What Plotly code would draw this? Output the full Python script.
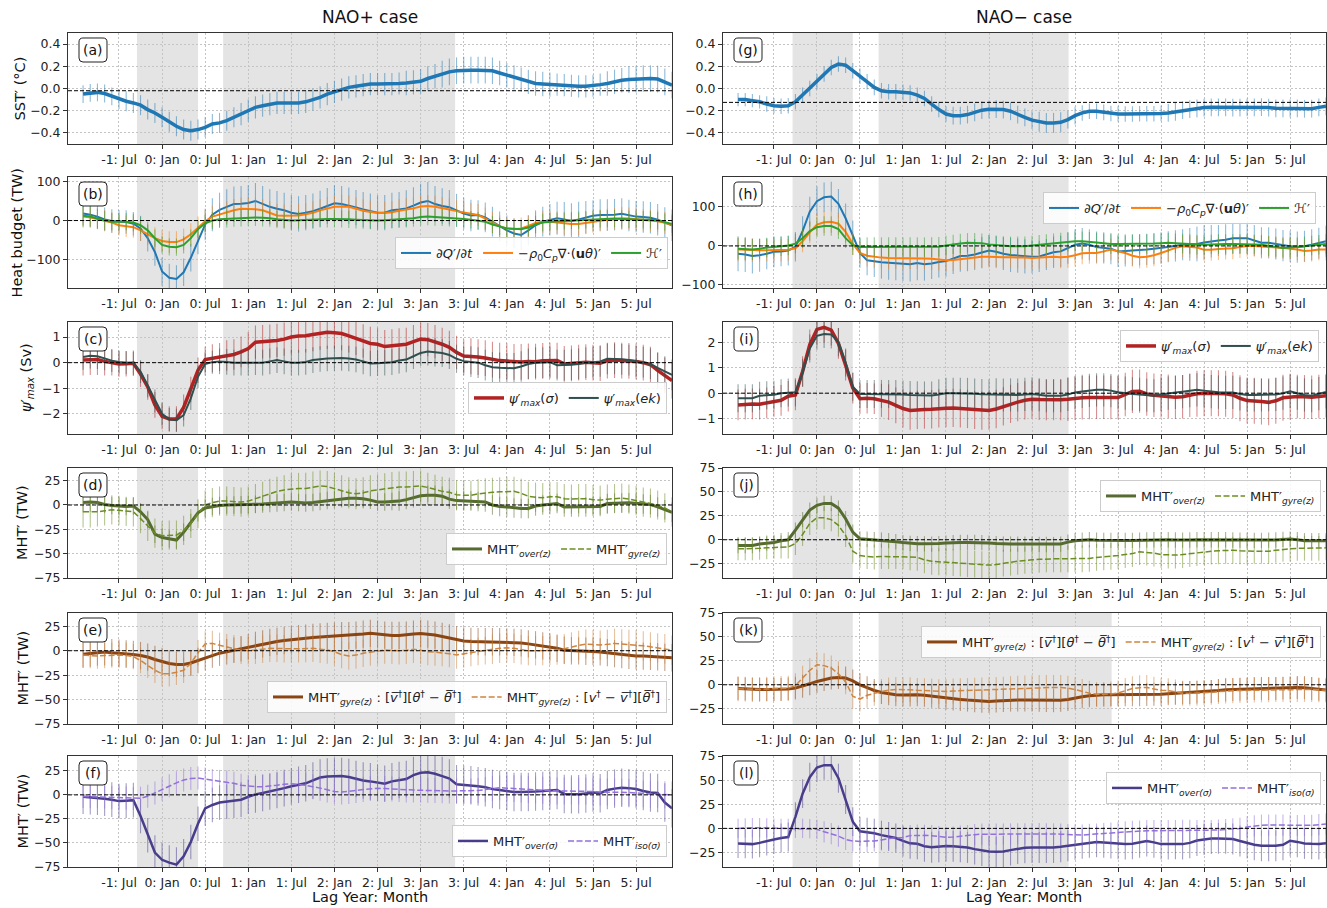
import plotly.graph_objects as go

W, H = 1327, 908

# ---------------- data ----------------
months = list(range(-11, 72))
tick_months = [-6, 0, 6, 12, 18, 24, 30, 36, 42, 48, 54, 60, 66]
tick_labels = ['-1: Jul', '0: Jan', '0: Jul', '1: Jan', '1: Jul', '2: Jan', '2: Jul',
               '3: Jan', '3: Jul', '4: Jan', '4: Jul', '5: Jan', '5: Jul']

bands_pos = [[-3.5, 5.0], [8.5, 40.8]]
bands_neg = [[-3.4, 5.0], [8.6, 35.1]]
bands_neg_k = [[-3.4, 5.0], [8.6, 41.1]]
ref_sst_pos = -0.02
ref_sst_neg = -0.125

# NAO+ (a) SST'
sst_pos = [-0.05, -0.04, -0.035, -0.045, -0.07, -0.095, -0.115, -0.13, -0.15, -0.19, -0.22, -0.26,
           -0.30, -0.34, -0.37, -0.38, -0.37, -0.35, -0.32, -0.31, -0.29, -0.26, -0.23, -0.20,
           -0.17, -0.155, -0.14, -0.13, -0.13, -0.13, -0.13, -0.12, -0.10, -0.08, -0.05, -0.03,
           -0.01, 0.01, 0.02, 0.03, 0.04, 0.04, 0.04, 0.04, 0.045, 0.05, 0.055, 0.065,
           0.09, 0.11, 0.13, 0.15, 0.16, 0.165, 0.165, 0.165, 0.165, 0.16, 0.14, 0.12,
           0.10, 0.08, 0.06, 0.045, 0.04, 0.035, 0.035, 0.03, 0.025, 0.02, 0.02, 0.025,
           0.035, 0.045, 0.06, 0.075, 0.08, 0.085, 0.09, 0.09, 0.085, 0.06, 0.03]
err_sst_pos = [0.08, 0.08, 0.08, 0.08, 0.08, 0.09, 0.09, 0.09, 0.09, 0.09, 0.09, 0.09,
               0.09, 0.09, 0.09, 0.09, 0.09, 0.09, 0.09, 0.09, 0.09, 0.09, 0.10, 0.10,
               0.10, 0.10, 0.10, 0.10, 0.10, 0.10, 0.10, 0.10, 0.10, 0.10, 0.10, 0.10,
               0.10, 0.10, 0.10, 0.10, 0.10, 0.10, 0.10, 0.10, 0.10, 0.11, 0.11, 0.11,
               0.11, 0.11, 0.12, 0.12, 0.12, 0.12, 0.12, 0.12, 0.12, 0.12, 0.11, 0.11,
               0.11, 0.11, 0.11, 0.11, 0.11, 0.11, 0.10, 0.10, 0.10, 0.10, 0.10, 0.10,
               0.10, 0.11, 0.11, 0.11, 0.12, 0.12, 0.12, 0.12, 0.12, 0.12, 0.12]

# NAO+ (b) heat budget
q_pos = [18, 15, 10, 3, -1, -3, -4, -8, -20, -45, -80, -130,
         -146, -149, -132, -95, -50, -10, 15, 27, 35, 42, 43, 45,
         50, 42, 35, 30, 26, 20, 17, 20, 24, 30, 37, 44,
         42, 38, 33, 28, 24, 20, 20, 26, 28, 31, 38, 46,
         50, 42, 37, 34, 26, 18, 13, 14, 8, -3, -15, -25,
         -33, -37, -25, -12, -3, 2, 6, 3, -1, 3, 8, 12,
         14, 14, 15, 17, 13, 10, 9, 7, 2, -6, -12]
err_q_pos = [30, 30, 30, 30, 30, 30, 30, 30, 32, 34, 35, 36,
             36, 35, 35, 35, 36, 40, 42, 44, 45, 45, 45, 45,
             46, 46, 45, 45, 45, 45, 45, 45, 45, 46, 46, 46,
             46, 46, 45, 45, 45, 45, 45, 45, 45, 46, 47, 48,
             48, 46, 45, 44, 42, 40, 40, 38, 38, 38, 38, 38,
             38, 38, 38, 38, 38, 40, 42, 44, 45, 45, 42, 40,
             40, 40, 40, 40, 40, 40, 40, 40, 40, 40, 40]
adv_pos = [10, 8, 4, 0, -5, -12, -15, -17, -25, -35, -45, -52,
           -55, -55, -48, -35, -18, -2, 10, 16, 22, 26, 30, 30,
           29, 26, 20, 13, 12, 12, 13, 16, 20, 26, 31, 35,
           36, 35, 30, 25, 22, 19, 19, 21, 25, 28, 31, 36,
           37, 35, 32, 28, 24, 21, 17, 14, 5, -5, -15, -20,
           -22, -20, -14, -6, -3, -3, -5, -8, -9, -9, -6, -3,
           0, 2, 4, 6, 5, 3, 1, 0, -2, -6, -11]
err_adv_pos = [25, 25, 26, 26, 26, 26, 27, 27, 27, 27, 28, 28,
               28, 28, 28, 28, 28, 28, 28, 28, 28, 29, 29, 29,
               29, 29, 29, 29, 29, 29, 29, 29, 29, 29, 29, 29,
               29, 29, 29, 29, 29, 29, 29, 29, 29, 29, 28, 28,
               28, 28, 28, 28, 28, 28, 28, 28, 28, 28, 28, 28,
               28, 28, 28, 28, 28, 28, 28, 28, 28, 28, 28, 28,
               28, 28, 28, 28, 28, 28, 28, 28, 28, 28, 28]
h_pos = [12, 10, 5, 0, -3, -3, -3, -5, -12, -25, -45, -62,
         -67, -68, -62, -45, -22, -7, 0, 3, 4, 6, 7, 8,
         8, 7, 6, 3, 1, 0, 1, 2, 3, 4, 4, 4,
         4, 3, 2, 1, 0, 0, 1, 2, 3, 4, 6, 9,
         10, 9, 8, 7, 6, 4, 2, 0, -3, -10, -15, -20,
         -21, -22, -18, -10, -5, -3, -2, -1, 0, 1, 2, 3,
         4, 5, 5, 4, 3, 3, 2, 2, 0, -4, -9]
err_h_pos = [30, 28, 26, 24, 22, 22, 22, 22, 22, 22, 22, 22,
             22, 22, 22, 22, 22, 22, 22, 22, 22, 22, 22, 22,
             22, 22, 22, 22, 22, 22, 22, 22, 22, 22, 22, 22,
             22, 22, 22, 22, 22, 22, 22, 22, 22, 22, 22, 22,
             22, 22, 22, 22, 22, 22, 22, 22, 22, 22, 22, 22,
             22, 22, 22, 22, 22, 22, 22, 22, 22, 22, 22, 22,
             22, 22, 22, 22, 22, 22, 22, 22, 22, 22, 22]

# NAO+ (c) psi'
psi_sig_pos = [0.10, 0.12, 0.12, 0.05, 0.0, -0.05, -0.04, -0.02, -0.45, -0.95, -1.65, -2.1,
               -2.2, -2.2, -1.75, -1.05, -0.3, 0.12, 0.17, 0.22, 0.28, 0.32, 0.42, 0.55,
               0.8, 0.82, 0.84, 0.87, 0.92, 1.0, 1.04, 1.05, 1.1, 1.15, 1.19, 1.17,
               1.14, 1.05, 0.95, 0.85, 0.75, 0.72, 0.63, 0.66, 0.7, 0.72, 0.82, 0.92,
               0.9, 0.82, 0.72, 0.6, 0.4, 0.26, 0.25, 0.22, 0.18, 0.12, 0.08, 0.06,
               0.03, 0.03, 0.05, 0.04, 0.07, 0.08, 0.08, -0.05, -0.03, 0.0, 0.02, 0.0,
               -0.02, 0.08, 0.1, 0.08, 0.07, 0.05, 0.0, -0.08, -0.3, -0.5, -0.7]
err_psi_sig_pos = [0.6, 0.6, 0.6, 0.55, 0.5, 0.5, 0.5, 0.5, 0.5, 0.5, 0.5, 0.5,
                   0.5, 0.5, 0.5, 0.5, 0.5, 0.5, 0.55, 0.55, 0.6, 0.6, 0.6, 0.65,
                   0.65, 0.65, 0.65, 0.65, 0.65, 0.65, 0.65, 0.65, 0.65, 0.65, 0.65, 0.65,
                   0.65, 0.65, 0.65, 0.65, 0.65, 0.65, 0.65, 0.65, 0.65, 0.65, 0.65, 0.65,
                   0.65, 0.65, 0.65, 0.65, 0.65, 0.65, 0.7, 0.7, 0.7, 0.7, 0.7, 0.7,
                   0.7, 0.7, 0.7, 0.7, 0.7, 0.7, 0.7, 0.7, 0.7, 0.7, 0.7, 0.7,
                   0.7, 0.7, 0.7, 0.7, 0.7, 0.7, 0.7, 0.7, 0.7, 0.7, 0.7]
psi_ek_pos = [0.22, 0.27, 0.25, 0.15, 0.08, 0.03, 0.0, -0.02, -0.35, -0.9, -1.5, -2.0,
              -2.22, -2.25, -2.05, -1.4, -0.55, -0.05, 0.02, 0.05, 0.03, 0.0, 0.0, 0.0,
              0.02, 0.0, 0.05, 0.1, 0.05, 0.0, 0.0, 0.03, 0.1, 0.14, 0.16, 0.17,
              0.18, 0.16, 0.12, 0.05, -0.03, -0.02, 0.0, 0.02, 0.08, 0.12, 0.25, 0.38,
              0.44, 0.4, 0.38, 0.3, 0.15, 0.06, 0.04, 0.0, -0.1, -0.18, -0.2, -0.22,
              -0.22, -0.15, -0.05, 0.0, 0.0, 0.02, -0.1, -0.1, -0.08, -0.05, 0.0, 0.02,
              0.05, 0.15, 0.15, 0.13, 0.1, 0.05, 0.02, -0.05, -0.2, -0.35, -0.48]
err_psi_ek_pos = [0.5, 0.5, 0.5, 0.45, 0.45, 0.45, 0.45, 0.45, 0.45, 0.45, 0.45, 0.45,
                  0.45, 0.45, 0.45, 0.45, 0.45, 0.45, 0.45, 0.5, 0.5, 0.5, 0.5, 0.5,
                  0.5, 0.5, 0.5, 0.5, 0.5, 0.5, 0.5, 0.5, 0.5, 0.5, 0.5, 0.5,
                  0.5, 0.5, 0.5, 0.5, 0.5, 0.5, 0.5, 0.5, 0.5, 0.5, 0.5, 0.5,
                  0.55, 0.55, 0.55, 0.55, 0.55, 0.55, 0.6, 0.6, 0.6, 0.6, 0.6, 0.6,
                  0.6, 0.6, 0.6, 0.6, 0.6, 0.6, 0.6, 0.6, 0.6, 0.6, 0.6, 0.6,
                  0.6, 0.6, 0.6, 0.6, 0.6, 0.6, 0.6, 0.6, 0.6, 0.6, 0.6]

# NAO+ (d) MHT' over(z) / gyre(z)
over_z_pos = [2.5, 3, 2.5, 0.5, -0.5, -1, -1.5, -1, -7, -15, -30, -33.5,
              -35, -36, -28, -18, -8, -3, -1.5, -0.5, 0, 0, 0.3, 0.5,
              0.7, 1, 1.5, 2, 2.5, 3, 2.5, 2, 2.5, 3.5, 4.5, 5.5,
              6.5, 7, 7, 6.5, 5, 3, 3, 3.5, 4, 5.5, 7.5, 9.5,
              10, 10, 9, 6, 4.5, 4, 4, 3.5, 3, 0, -1.5, -2,
              -3, -3.5, -3.5, -1, 0, 0.5, 1.5, -2, -2, -2, -2, -1.5,
              -1.5, 1.5, 2, 2, 2.2, 1.8, 1, 0.5, -2, -5, -7.5]
err_over_z_pos = [10, 10, 9, 9, 9, 9, 9, 9, 9, 9, 9, 9,
                  9, 9, 9, 9, 9, 9, 9, 9, 9, 9, 9, 9,
                  9, 9, 9, 9, 9, 9, 9, 9, 9, 9, 9, 9,
                  9, 9, 9, 9, 9, 9, 9, 9, 10, 10, 10, 10,
                  10, 10, 10, 10, 10, 10, 10, 10, 10, 10, 10, 10,
                  10, 10, 10, 10, 10, 10, 10, 10, 10, 10, 10, 10,
                  10, 10, 10, 10, 10, 10, 10, 10, 10, 10, 10]
gyre_z_pos = [-7, -7, -7, -6, -5, -5.5, -6.5, -7, -14, -22, -29, -31.5,
              -31, -31, -26, -19, -9, 0, 2.5, 4, 4, 3.5, 3, 4,
              6.5, 9, 12, 14, 15.5, 16.5, 17, 17, 18.5, 19.5, 19, 17,
              14.5, 12.5, 11.5, 12.5, 14.5, 15.5, 16.5, 18, 18.5, 18.5, 19, 19.5,
              18, 16, 14, 13, 10.5, 10, 10, 11.5, 12.5, 13, 13.5, 14,
              14, 12, 9, 8, 7.5, 8.5, 8.5, 6.5, 6, 6.5, 6.5, 5.5,
              5, 6, 6.5, 7, 6, 4.5, 3, 2, 0, -3, -7]
err_gyre_z_pos = [16, 16, 15, 15, 15, 15, 15, 15, 15, 15, 15, 15,
                  15, 15, 15, 15, 15, 15, 15, 15, 15, 15, 15, 15,
                  15, 15, 15, 15, 15, 16, 16, 16, 16, 16, 16, 16,
                  16, 16, 16, 16, 16, 16, 16, 16, 16, 16, 16, 16,
                  15, 15, 15, 15, 15, 15, 15, 15, 15, 15, 15, 15,
                  15, 15, 15, 15, 15, 15, 15, 15, 15, 15, 15, 15,
                  15, 15, 15, 15, 15, 15, 15, 15, 15, 15, 15]

# NAO+ (e) MHT' gyre(z) components
gyre_a_pos = [-3.5, -2.5, -1.5, -1.2, -2, -2.5, -3.2, -3.8, -5, -6.5, -9, -11,
              -13, -14, -14, -12.5, -10, -7, -4.5, -2.5, -1, 0.5, 2, 4,
              5.5, 7, 8.5, 9.5, 10.5, 11.5, 12.3, 12.8, 13.5, 14, 14.5, 15,
              15.3, 15.5, 16, 17, 17.8, 17, 16, 15.7, 15.7, 16, 17, 17.6,
              17, 16, 14.5, 13, 11, 10, 9.5, 9.3, 9.2, 9.2, 9.2, 9,
              8.5, 8, 7, 6, 5, 4, 2.5, 0.5, 0, -0.2, -0.5, -0.8,
              -1.2, -2, -3, -4, -4.8, -5.3, -5.5, -5.8, -6.2, -6.8, -7.2]
err_gyre_a_pos = [14, 14, 14, 14, 14, 14, 14, 14, 14, 14, 14, 14,
                  13, 13, 13, 13, 13, 13, 13, 13, 13, 13, 13, 13,
                  14, 14, 14, 14, 14, 14, 14, 14, 14, 14, 14, 14,
                  14, 14, 14, 14, 14, 14, 14, 14, 14, 14, 14, 14,
                  14, 14, 14, 14, 14, 14, 14, 14, 14, 14, 14, 14,
                  14, 14, 14, 14, 14, 14, 14, 14, 14, 14, 14, 14,
                  14, 14, 14, 14, 14, 14, 14, 14, 14, 14, 14]
gyre_b_pos = [-4.5, -5, -5.4, -5, -4.5, -4.5, -4.8, -6, -10, -15, -20, -23.5,
              -23.5, -22, -20, -13, -2, 7, 7.5, 5.5, 4, 2, 0.5, 0,
              0.5, 1.5, 2.4, 2.5, 2, 2, 2, 2.2, 2.4, 1.5, 0.7, -1,
              -4, -5.4, -4.5, -2.7, -1.5, -0.5, 0.7, 0.3, 0, 0.5, 1.4, 0.5,
              -1, -1.5, -2, -3, -4.4, -3.5, -2, -0.8, 0, 1.5, 2.5, 3,
              2.4, 1, 0, 0, 0, 0.3, 0.7, 2, 4, 5.5, 6.8, 6.3,
              5.8, 6.5, 7.5, 7, 6.5, 6, 5, 4, 3, 2, 0.5]
err_gyre_b_pos = [13, 13, 13, 13, 13, 13, 13, 13, 13, 13, 13, 13,
                  13, 13, 13, 13, 13, 13, 13, 13, 13, 14, 14, 14,
                  14, 14, 14, 14, 14, 14, 14, 14, 14, 14, 14, 14,
                  14, 14, 14, 14, 14, 14, 14, 14, 14, 14, 14, 14,
                  14, 14, 14, 14, 14, 14, 14, 14, 14, 15, 15, 15,
                  15, 15, 15, 15, 15, 15, 15, 15, 15, 15, 15, 15,
                  15, 15, 15, 15, 15, 15, 15, 15, 15, 15, 15]

# NAO+ (f) MHT' over(sigma) / iso(sigma)
over_s_pos = [-2, -2.5, -3, -4, -5, -6.5, -6, -5.5, -22, -42, -60, -67.5,
              -70.5, -72.5, -64, -49, -30, -14, -10.5, -8, -7, -6, -5, -2,
              0.5, 2, 3.5, 5, 7, 9, 10.5, 12, 15, 18, 19, 19.5,
              19.5, 18.5, 16.5, 15, 14, 12.5, 11.5, 14, 15.5, 16.5, 20.5, 23,
              23.5, 22, 19.5, 17, 11, 10.5, 10, 9, 8, 6, 5, 4,
              3, 3, 3, 3.5, 4, 4.5, 5, 1, 0.5, 0.7, 1.5, 2.4,
              1.7, 5, 6.5, 7.5, 7, 6, 4, 2.4, 2, -8, -14]
err_over_s_pos = [18, 18, 18, 18, 18, 18, 18, 18, 18, 18, 18, 18,
                  18, 18, 18, 18, 18, 18, 18, 18, 18, 18, 18, 18,
                  19, 19, 19, 19, 19, 19, 19, 19, 19, 19, 19, 19,
                  19, 19, 19, 19, 19, 19, 19, 19, 19, 19, 19, 19,
                  20, 20, 20, 20, 20, 20, 20, 20, 20, 20, 20, 20,
                  20, 20, 20, 20, 20, 20, 20, 20, 20, 20, 20, 20,
                  20, 20, 20, 20, 20, 20, 20, 20, 20, 20, 20]
iso_s_pos = [-1.7, -2, -2, -2.3, -2.7, -3, -3.3, -3.7, -3.5, -1.5, 2, 6,
             9.5, 12.5, 15.5, 17, 17.5, 16.5, 15, 14, 13.3, 12, 10, 9,
             8.5, 8.5, 9, 10, 11, 11.5, 11, 10, 8.5, 7, 5, 3.5,
             3, 3.5, 4.5, 5.5, 6.5, 6.8, 6.5, 6, 5.5, 5, 5, 4.8,
             4.8, 4.5, 4.2, 4, 4, 4, 4, 4.5, 5.5, 6.5, 7.5, 7,
             6.5, 6, 5.5, 5, 4.8, 4.5, 4, 4, 4, 4, 3.8, 3.5,
             3, 3, 3, 2.8, 2.5, 2, 1, 0.7, 0.5, 0.2, 0]
err_iso_s_pos = [12, 12, 12, 12, 12, 12, 12, 12, 12, 12, 12, 12,
                 12, 12, 12, 12, 12, 12, 12, 12, 12, 12, 12, 12,
                 13, 13, 13, 13, 13, 13, 13, 13, 13, 13, 13, 13,
                 13, 13, 13, 13, 13, 13, 13, 13, 13, 13, 13, 13,
                 13, 13, 13, 13, 13, 13, 13, 13, 13, 13, 13, 13,
                 14, 14, 14, 14, 14, 14, 14, 14, 14, 14, 14, 14,
                 14, 14, 14, 14, 14, 14, 14, 14, 14, 14, 14]

# NAO- (g) SST'
sst_neg = [-0.10, -0.10, -0.11, -0.12, -0.14, -0.155, -0.16, -0.155, -0.12, -0.06, 0.0, 0.06,
           0.13, 0.19, 0.22, 0.21, 0.16, 0.11, 0.06, 0.01, -0.02, -0.03, -0.03, -0.035,
           -0.04, -0.06, -0.09, -0.14, -0.19, -0.23, -0.245, -0.245, -0.235, -0.215, -0.195, -0.187,
           -0.185, -0.19, -0.205, -0.235, -0.26, -0.285, -0.30, -0.31, -0.31, -0.305, -0.28, -0.245,
           -0.22, -0.205, -0.205, -0.215, -0.225, -0.23, -0.23, -0.23, -0.228, -0.228, -0.228, -0.225,
           -0.22, -0.21, -0.195, -0.185, -0.178, -0.172, -0.17, -0.17, -0.17, -0.172, -0.172, -0.17,
           -0.17, -0.168, -0.172, -0.178, -0.178, -0.178, -0.18, -0.183, -0.182, -0.17, -0.16]
err_sst_neg = [0.06, 0.06, 0.06, 0.06, 0.07, 0.07, 0.07, 0.07, 0.07, 0.07, 0.07, 0.07,
               0.07, 0.07, 0.07, 0.07, 0.07, 0.07, 0.07, 0.07, 0.07, 0.07, 0.07, 0.07,
               0.07, 0.07, 0.07, 0.07, 0.07, 0.07, 0.08, 0.08, 0.08, 0.08, 0.08, 0.08,
               0.08, 0.08, 0.08, 0.08, 0.08, 0.08, 0.09, 0.09, 0.09, 0.09, 0.08, 0.08,
               0.07, 0.07, 0.07, 0.07, 0.07, 0.07, 0.07, 0.07, 0.07, 0.07, 0.07, 0.07,
               0.08, 0.08, 0.08, 0.08, 0.08, 0.08, 0.08, 0.08, 0.08, 0.08, 0.08, 0.08,
               0.08, 0.08, 0.08, 0.08, 0.08, 0.08, 0.08, 0.08, 0.08, 0.08, 0.08]

# NAO- (h) heat budget
q_neg = [-20, -22, -26, -24, -20, -15, -14, -12, -2, 38, 88, 115,
         125, 127, 108, 71, 27, -18, -37, -40, -42, -43, -44, -46,
         -47, -44, -47, -45, -41, -39, -32, -26, -25, -22, -17, -12,
         -15, -20, -23, -25, -27, -28, -27, -22, -16, -14, -6, 3,
         6, 3, -3, -5, -7, -14, -13, -11, -10, -9, -7, -5,
         -2, 0, 3, 4, 5, 9, 12, 14, 16, 20, 20, 20,
         14, 8, 8, 5, 1, -1, -3, -1, 3, 7, 12]
err_q_neg = [45, 45, 45, 42, 40, 40, 38, 38, 38, 38, 38, 38,
             38, 38, 38, 38, 38, 38, 38, 40, 42, 44, 44, 44,
             44, 44, 42, 40, 40, 40, 40, 40, 40, 40, 40, 40,
             40, 42, 44, 44, 44, 42, 40, 40, 40, 40, 40, 40,
             40, 40, 40, 40, 40, 40, 40, 40, 40, 40, 40, 40,
             40, 40, 40, 42, 44, 44, 42, 40, 40, 40, 40, 40,
             40, 40, 40, 40, 40, 40, 40, 40, 40, 40, 40]
adv_neg = [-9, -10, -11, -11, -11, -11, -11, -10, -6, 12, 35, 55,
           61, 62, 57, 36, 5, -18, -25, -28, -30, -31, -31, -31,
           -31, -31, -32, -33, -35, -37, -36, -34, -33, -30, -28, -28,
           -29, -29, -29, -29, -30, -31, -30, -28, -28, -29, -28, -24,
           -19, -18, -18, -14, -9, -14, -18, -25, -29, -28, -24, -18,
           -11, -5, -1, -2, -4, -10, -10, -8, -7, -6, -3, 0,
           0, -1, -2, -4, -5, -7, -9, -13, -12, -9, -9]
err_adv_neg = [30, 30, 30, 29, 28, 28, 28, 28, 28, 28, 28, 28,
               28, 28, 28, 28, 28, 28, 28, 28, 28, 28, 28, 28,
               28, 28, 28, 28, 28, 28, 28, 28, 28, 28, 28, 28,
               28, 28, 28, 28, 28, 28, 28, 28, 28, 28, 28, 28,
               28, 28, 28, 28, 28, 28, 28, 28, 28, 28, 28, 28,
               28, 28, 28, 28, 28, 28, 28, 28, 28, 28, 28, 28,
               28, 28, 28, 28, 28, 28, 28, 28, 28, 28, 28]
h_neg = [-7, -8, -9, -7, -4, -3, -1, 1, 6, 20, 38, 48,
         51, 51, 43, 20, 2, -3, -3, -3, -3, -3, -3, -3,
         -3, -3, -3, -3, -2, 1, 4, 6, 8, 8, 7, 4,
         2, 0, -1, -1, -1, 1, 3, 5, 7, 9, 11, 12,
         12, 11, 9, 7, 5, 5, 5, 5, 5, 5, 6, 7,
         8, 7, 6, 5, 3, 3, 4, 5, 5, 5, 5, 5,
         4, 3, 0, -3, -5, -4, -3, -1, 1, 3, 5]
err_h_neg = [28, 28, 27, 26, 25, 25, 25, 25, 25, 25, 25, 25,
             25, 25, 25, 25, 25, 25, 25, 25, 25, 25, 25, 25,
             25, 25, 25, 25, 25, 25, 25, 25, 25, 25, 25, 25,
             25, 25, 25, 25, 25, 25, 25, 25, 25, 25, 25, 25,
             25, 25, 25, 25, 25, 25, 25, 25, 25, 25, 25, 25,
             25, 25, 25, 25, 25, 25, 25, 25, 25, 25, 25, 25,
             25, 25, 25, 25, 25, 25, 25, 25, 25, 25, 25]

# NAO- (i) psi'
psi_sig_neg = [-0.46, -0.43, -0.42, -0.43, -0.38, -0.32, -0.28, -0.12, -0.07, 0.85, 1.9, 2.5,
               2.58, 2.47, 1.95, 1.1, 0.2, -0.22, -0.2, -0.22, -0.28, -0.35, -0.48, -0.6,
               -0.68, -0.65, -0.64, -0.63, -0.6, -0.59, -0.58, -0.6, -0.62, -0.65, -0.68, -0.68,
               -0.62, -0.52, -0.42, -0.35, -0.28, -0.24, -0.25, -0.26, -0.26, -0.26, -0.24, -0.2,
               -0.18, -0.17, -0.16, -0.16, -0.17, -0.17, -0.05, 0.07, 0.08, -0.03, -0.08, -0.1,
               -0.12, -0.16, -0.14, -0.08, -0.02, 0.0, 0.0, 0.0, -0.02, -0.07, -0.2, -0.29,
               -0.3, -0.33, -0.36, -0.3, -0.18, -0.14, -0.13, -0.14, -0.16, -0.13, -0.1]
err_psi_sig_neg = [0.6, 0.6, 0.6, 0.6, 0.6, 0.6, 0.6, 0.6, 0.6, 0.6, 0.6, 0.6,
                   0.6, 0.6, 0.6, 0.6, 0.6, 0.6, 0.6, 0.6, 0.65, 0.7, 0.7, 0.75,
                   0.75, 0.75, 0.75, 0.75, 0.75, 0.75, 0.75, 0.75, 0.75, 0.75, 0.75, 0.75,
                   0.75, 0.75, 0.75, 0.75, 0.75, 0.75, 0.8, 0.8, 0.8, 0.8, 0.85, 0.85,
                   0.85, 0.85, 0.85, 0.85, 0.85, 0.85, 0.85, 0.85, 0.85, 0.85, 0.85, 0.85,
                   0.85, 0.85, 0.85, 0.85, 0.9, 0.9, 0.9, 0.9, 0.9, 0.9, 0.9, 0.9,
                   0.9, 0.9, 0.9, 0.9, 0.9, 0.9, 0.85, 0.85, 0.85, 0.85, 0.85]
psi_ek_neg = [-0.2, -0.2, -0.2, -0.1, -0.08, -0.06, 0.0, 0.03, 0.04, 0.8, 1.75, 2.25,
              2.32, 2.3, 2.0, 1.2, 0.25, -0.03, -0.03, -0.03, -0.03, -0.03, -0.03, -0.05,
              -0.07, -0.08, -0.09, -0.09, -0.05, 0.0, 0.0, 0.0, 0.0, -0.02, -0.04, -0.05,
              -0.06, -0.07, -0.07, -0.07, -0.05, -0.03, -0.06, -0.1, -0.1, -0.1, -0.05, 0.03,
              0.07, 0.11, 0.13, 0.13, 0.1, 0.04, 0.0, -0.03, -0.05, -0.08, -0.1, -0.05,
              0.0, 0.03, 0.06, 0.1, 0.13, 0.1, 0.06, 0.04, 0.03, 0.03, -0.03, -0.07,
              -0.07, -0.07, -0.06, -0.05, 0.0, 0.07, 0.0, -0.07, -0.1, -0.02, 0.05]
err_psi_ek_neg = [0.55, 0.55, 0.55, 0.55, 0.55, 0.55, 0.55, 0.55, 0.55, 0.55, 0.55, 0.55,
                  0.55, 0.55, 0.55, 0.55, 0.55, 0.55, 0.55, 0.55, 0.55, 0.55, 0.55, 0.55,
                  0.55, 0.55, 0.55, 0.55, 0.6, 0.6, 0.6, 0.6, 0.6, 0.6, 0.6, 0.6,
                  0.65, 0.65, 0.65, 0.65, 0.65, 0.65, 0.65, 0.65, 0.65, 0.65, 0.65, 0.65,
                  0.65, 0.65, 0.65, 0.65, 0.65, 0.65, 0.65, 0.65, 0.65, 0.65, 0.65, 0.65,
                  0.65, 0.65, 0.65, 0.65, 0.65, 0.65, 0.65, 0.65, 0.65, 0.65, 0.65, 0.65,
                  0.65, 0.65, 0.65, 0.65, 0.65, 0.65, 0.65, 0.65, 0.65, 0.65, 0.65]

# NAO- (j)
over_z_neg = [-6, -6, -6, -4.5, -3.5, -2.8, -1, 0, 10, 21, 31, 36,
              38, 38, 33, 22, 8, 1, 0.5, 0, -0.3, -1, -2, -3,
              -3.8, -4.2, -4.3, -4.5, -4, -3.5, -3, -2.8, -2.8, -2.8, -3, -3.5,
              -4, -4.5, -4.5, -4.5, -4.5, -4.5, -4.8, -5, -5, -4.5, -2.5, -1,
              -0.5, 0, -0.5, -0.7, -0.7, -0.7, -0.7, -0.7, -0.5, -0.3, 0, 0,
              0, -0.3, -0.5, -0.3, 0, 0, 0, 0, 0, -0.3, -0.5, -0.7,
              -0.7, -0.7, -0.5, -0.3, 0.3, 0.7, 0, -1, -1, -1, -1]
err_over_z_neg = [8, 8, 8, 8, 8, 8, 8, 8, 8, 8, 8, 8,
                  8, 8, 8, 8, 8, 8, 8, 8, 8, 8, 8, 8,
                  8, 8, 8, 8, 8, 8, 8, 8, 8, 8, 8, 8,
                  8, 8, 8, 8, 8, 8, 8, 8, 8, 8, 8, 8,
                  8, 8, 8, 8, 8, 8, 8, 8, 8, 8, 8, 8,
                  8, 8, 8, 8, 8, 8, 8, 8, 8, 8, 8, 8,
                  8, 8, 8, 8, 8, 8, 8, 8, 8, 8, 8]
gyre_z_neg = [-9.5, -9.5, -9.5, -9, -8.5, -8, -7.6, -7.5, -4, 5.5, 17, 23,
              23, 21, 15, 4.5, -12, -16.5, -17.5, -18, -17.5, -17.5, -17.5, -17.5,
              -18, -18.5, -21, -22.5, -23, -23.5, -24, -24.5, -25, -25.5, -26, -26.5,
              -26, -24.5, -23.5, -22.5, -21.5, -21, -20.5, -20, -20, -20, -20, -20,
              -20, -19.5, -18.5, -18, -17.5, -16.5, -15.5, -14.5, -12.5, -13, -14, -15.5,
              -16, -16, -15.5, -14.5, -13.5, -12.5, -12, -11.5, -11, -11, -11.5, -12,
              -12, -12, -12, -11, -10, -9.5, -9, -9, -9, -9, -8.5]
err_gyre_z_neg = [12, 12, 12, 12, 12, 12, 12, 12, 12, 12, 12, 12,
                  12, 12, 12, 12, 12, 13, 13, 13, 13, 13, 13, 13,
                  14, 14, 14, 14, 14, 14, 14, 14, 14, 14, 14, 14,
                  14, 14, 14, 14, 14, 14, 14, 14, 14, 14, 14, 14,
                  14, 14, 14, 14, 14, 14, 14, 14, 14, 14, 14, 14,
                  14, 14, 14, 14, 14, 14, 14, 14, 14, 14, 14, 14,
                  13, 13, 13, 13, 13, 13, 13, 13, 13, 13, 13]

# NAO- (k)
gyre_a_neg = [-4, -4.5, -4.8, -5, -5, -5, -5, -4.5, -3.5, -1.5, 1, 3.5,
              5.5, 7, 7.6, 7, 4, 0, -3, -6, -8, -9.5, -10.5, -10.8,
              -10.6, -10.4, -11, -12, -13, -14, -14.8, -15.3, -16, -16.7, -17.2, -17.4,
              -17, -16.5, -16, -16, -16, -16, -16.2, -16.5, -16.7, -16.3, -15.3, -13.5,
              -12.5, -11.5, -10.8, -10.5, -10.4, -10.4, -10.4, -10.4, -10.4, -10.2, -10, -10,
              -9.5, -9, -8.3, -8, -7.7, -7.4, -7, -6, -5.2, -4.9, -4.6, -4.3,
              -4, -3.8, -3.8, -3.8, -3.5, -3, -2.8, -3, -3.8, -4.8, -5.6]
err_gyre_a_neg = [12, 12, 12, 12, 12, 12, 12, 12, 12, 12, 12, 12,
                  12, 12, 12, 12, 12, 12, 12, 12, 12, 12, 12, 12,
                  12, 12, 12, 12, 12, 12, 12, 12, 12, 12, 12, 12,
                  12, 12, 12, 12, 12, 12, 12, 12, 12, 12, 12, 12,
                  12, 12, 12, 12, 12, 12, 12, 12, 12, 12, 12, 12,
                  12, 12, 12, 12, 12, 12, 12, 12, 12, 12, 12, 12,
                  12, 12, 12, 12, 12, 12, 12, 12, 12, 12, 12]
gyre_b_neg = [-4.2, -4.5, -4.9, -4.9, -4.5, -4.2, -3.8, -3.5, -1, 7, 15, 21,
              20, 17.5, 11.5, 3, -12, -15, -11, -9, -7, -5.5, -5, -4.9,
              -5.2, -5.8, -6.2, -6.8, -7.2, -7, -6.5, -6.2, -6, -5.7, -5.4, -5.2,
              -5, -4.5, -4, -3.6, -3.3, -3, -2.8, -2.8, -2.8, -2.9, -3.5, -5,
              -7, -8.8, -10, -10, -9.7, -8.5, -6, -4, -3, -2.8, -4.5, -5.8,
              -6.2, -7.5, -8.8, -9, -8.8, -8.5, -8, -7.2, -6.5, -6.2, -6, -5.8,
              -5.6, -5.4, -5.2, -5, -4.9, -4.9, -4.9, -4.9, -5, -5.3, -5.6]
err_gyre_b_neg = [13, 13, 13, 13, 13, 13, 13, 13, 13, 13, 13, 13,
                  13, 13, 13, 13, 13, 13, 13, 13, 13, 13, 13, 13,
                  13, 13, 13, 13, 13, 13, 13, 13, 13, 13, 13, 13,
                  13, 13, 13, 13, 13, 13, 13, 13, 13, 13, 13, 13,
                  13, 13, 13, 13, 13, 13, 13, 13, 13, 13, 13, 13,
                  13, 13, 13, 13, 13, 13, 13, 13, 13, 13, 13, 13,
                  13, 13, 13, 13, 13, 13, 13, 13, 13, 13, 13]

# NAO- (l)
over_s_neg = [-15.6, -16, -16.3, -15, -13, -11.5, -10, -9, 12, 36, 53, 63,
              65.5, 65.5, 52, 30, 7, -3, -4, -5, -7, -8.5, -10, -13,
              -15.5, -16, -18.5, -19.5, -19, -18.2, -18.5, -19, -19.8, -21.5, -23, -24,
              -24.3, -24, -22.5, -21, -20, -19.8, -19.8, -19.8, -19.8, -19, -18, -16.5,
              -15.5, -14.5, -14, -14.5, -15.3, -16, -16.3, -16, -14.5, -13, -14.5, -16.3,
              -16.3, -16, -16.3, -15, -12.5, -11.5, -10.5, -10.4, -10.4, -11, -13, -15.3,
              -17, -18, -18, -18, -17, -12.8, -14, -15.6, -16, -16.2, -15.3]
err_over_s_neg = [15, 15, 15, 15, 15, 15, 15, 15, 15, 15, 15, 15,
                  15, 15, 15, 15, 15, 15, 15, 15, 15, 15, 15, 16,
                  16, 16, 16, 16, 16, 16, 16, 16, 16, 16, 16, 16,
                  16, 16, 16, 16, 16, 16, 16, 16, 16, 16, 16, 16,
                  16, 16, 16, 16, 16, 16, 16, 16, 16, 16, 16, 16,
                  16, 16, 16, 16, 16, 16, 16, 16, 16, 16, 16, 16,
                  16, 16, 16, 16, 16, 16, 16, 16, 16, 16, 16]
iso_s_neg = [0, 0.5, 0.7, 0.7, 0.5, 0.3, 0, 0, 0, 0, -0.3, -1,
             -3.5, -5.5, -8, -11.5, -13, -13.5, -13.5, -13, -12, -10.5, -10, -9.4,
             -7.5, -7, -7.2, -7.6, -8.5, -9.2, -9, -8, -7.5, -6.5, -6, -5.9,
             -5.9, -5.9, -5.8, -5.7, -5.6, -5.5, -5.5, -5.6, -5.8, -6, -6.5, -6.9,
             -6.9, -6.2, -5.9, -5.3, -4.9, -4.2, -3.6, -3, -2.7, -2.4, -2.4, -2.4,
             -2.4, -2.2, -2.1, -2.1, -2.2, -2.4, -2.3, -1.7, -1.2, -0.6, 0, 1.5,
             2.5, 3.3, 3.5, 3.5, 3.5, 3.2, 3, 3, 3.2, 3.8, 4.5]
err_iso_s_neg = [10, 10, 10, 10, 10, 10, 10, 10, 10, 10, 10, 10,
                 11, 11, 11, 11, 11, 11, 11, 11, 11, 11, 11, 11,
                 11, 11, 11, 11, 11, 11, 11, 11, 11, 11, 11, 11,
                 11, 11, 11, 11, 11, 11, 11, 11, 11, 11, 11, 11,
                 11, 11, 11, 11, 11, 11, 11, 11, 11, 11, 11, 11,
                 11, 11, 11, 11, 11, 11, 11, 11, 11, 11, 11, 11,
                 11, 11, 11, 11, 11, 11, 11, 11, 11, 11, 11]

# ---------------- styling ----------------
FONT = 'DejaVu Sans'
BLUE, ORANGE, GREEN = '#1f77b4', '#ff7f0e', '#2ca02c'
RED, DSG = '#b22222', '#2f4f4f'
OLIVE, OLIVEDRAB = '#556b2f', '#6b8e23'
BROWN, PERU = '#8b4513', '#cd853f'
DSB, MPURPLE = '#483d8b', '#9370db'
DASH = '6px,2.5px'


def rgba(hexc, a):
    h = hexc.lstrip('#')
    return 'rgba(%d,%d,%d,%s)' % (int(h[0:2], 16), int(h[2:4], 16), int(h[4:6], 16), a)


def X(px):
    return px / W


def Y(py):
    return 1 - py / H


col_px = [(68, 672), (723, 1326)]
row_top = [33, 177, 322, 468, 613, 756]
row_bot = [144, 288, 434, 578, 724, 867]

lab_q = '∂<i>Q</i>′/∂<i>t</i>'
lab_adv = '−<i>ρ</i><sub>0</sub><i>C</i><sub><i>p</i></sub>∇·(<b>u</b><i>θ</i>)′'
lab_h = '<i>ℋ</i>′'
lab_psi_s = '<i>ψ</i>′<sub><i>max</i></sub>(<i>σ</i>)'
lab_psi_e = '<i>ψ</i>′<sub><i>max</i></sub>(<i>ek</i>)'
lab_oz = 'MHT′<sub><i>over(z)</i></sub>'
lab_gz = 'MHT′<sub><i>gyre(z)</i></sub>'
lab_ga = 'MHT′<sub><i>gyre(z)</i></sub> : [<i>v\u0305</i><sup>†</sup>][<i>θ</i><sup>†</sup> − <i>θ\u0305</i><sup>†</sup>]'
lab_gb = 'MHT′<sub><i>gyre(z)</i></sub> : [<i>v</i><sup>†</sup> − <i>v\u0305</i><sup>†</sup>][<i>θ\u0305</i><sup>†</sup>]'
lab_os = 'MHT′<sub><i>over(σ)</i></sub>'
lab_is = 'MHT′<sub><i>iso(σ)</i></sub>'

panels = [
    dict(lab='a', col=0, row=0, yr=[-0.5, 0.5], yt=[-0.4, -0.2, 0, 0.2, 0.4], fmt='.1f', ref=ref_sst_pos,
         bands=bands_pos, leg=None,
         series=[(sst_pos, err_sst_pos, '', BLUE, 3.5, 'solid')]),
    dict(lab='b', col=0, row=1, yr=[-172, 111], yt=[-100, 0, 100], fmt='d', ref=0, bands=bands_pos,
         leg=dict(x=668, y=269, anchor='bottom'),
         series=[(q_pos, err_q_pos, lab_q, BLUE, 2, 'solid'),
                 (adv_pos, err_adv_pos, lab_adv, ORANGE, 2, 'solid'),
                 (h_pos, err_h_pos, lab_h, GREEN, 2, 'solid')]),
    dict(lab='c', col=0, row=2, yr=[-2.79, 1.59], yt=[-2, -1, 0, 1], fmt='d', ref=0, bands=bands_pos,
         leg=dict(x=667, y=414, anchor='bottom'),
         series=[(psi_sig_pos, err_psi_sig_pos, lab_psi_s, RED, 3.5, 'solid'),
                 (psi_ek_pos, err_psi_ek_pos, lab_psi_e, DSG, 2, 'solid')]),
    dict(lab='d', col=0, row=3, yr=[-75, 38], yt=[-75, -50, -25, 0, 25], fmt='d', ref=0, bands=bands_pos,
         leg=dict(x=667, y=565, anchor='bottom'),
         series=[(over_z_pos, err_over_z_pos, lab_oz, OLIVE, 3, 'solid'),
                 (gyre_z_pos, err_gyre_z_pos, lab_gz, OLIVEDRAB, 1.5, DASH)]),
    dict(lab='e', col=0, row=4, yr=[-75, 38.6], yt=[-75, -50, -25, 0, 25], fmt='d', ref=0, bands=bands_pos,
         leg=dict(x=667, y=713, anchor='bottom'),
         series=[(gyre_a_pos, err_gyre_a_pos, lab_ga, BROWN, 3, 'solid'),
                 (gyre_b_pos, err_gyre_b_pos, lab_gb, PERU, 1.5, DASH)]),
    dict(lab='f', col=0, row=5, yr=[-75, 40.4], yt=[-75, -50, -25, 0, 25], fmt='d', ref=0, bands=bands_pos,
         leg=dict(x=667, y=857, anchor='bottom'),
         series=[(over_s_pos, err_over_s_pos, lab_os, DSB, 2.5, 'solid'),
                 (iso_s_pos, err_iso_s_pos, lab_is, MPURPLE, 1.5, DASH)]),
    dict(lab='g', col=1, row=0, yr=[-0.5, 0.5], yt=[-0.4, -0.2, 0, 0.2, 0.4], fmt='.1f', ref=ref_sst_neg,
         bands=bands_neg, leg=None,
         series=[(sst_neg, err_sst_neg, '', BLUE, 3.5, 'solid')]),
    dict(lab='h', col=1, row=1, yr=[-108, 177], yt=[-100, 0, 100], fmt='d', ref=0, bands=bands_neg,
         leg=dict(x=1316, y=192, anchor='top'),
         series=[(q_neg, err_q_neg, lab_q, BLUE, 2, 'solid'),
                 (adv_neg, err_adv_neg, lab_adv, ORANGE, 2, 'solid'),
                 (h_neg, err_h_neg, lab_h, GREEN, 2, 'solid')]),
    dict(lab='i', col=1, row=2, yr=[-1.6, 2.79], yt=[-1, 0, 1, 2], fmt='d', ref=0, bands=bands_neg,
         leg=dict(x=1319, y=330, anchor='top'),
         series=[(psi_sig_neg, err_psi_sig_neg, lab_psi_s, RED, 3.5, 'solid'),
                 (psi_ek_neg, err_psi_ek_neg, lab_psi_e, DSG, 2, 'solid')]),
    dict(lab='j', col=1, row=3, yr=[-40, 75], yt=[-25, 0, 25, 50, 75], fmt='d', ref=0, bands=bands_neg,
         leg=dict(x=1321, y=480, anchor='top'),
         series=[(over_z_neg, err_over_z_neg, lab_oz, OLIVE, 3, 'solid'),
                 (gyre_z_neg, err_gyre_z_neg, lab_gz, OLIVEDRAB, 1.5, DASH)]),
    dict(lab='k', col=1, row=4, yr=[-41, 75], yt=[-25, 0, 25, 50, 75], fmt='d', ref=0, bands=bands_neg_k,
         leg=dict(x=1321, y=626, anchor='top'),
         series=[(gyre_a_neg, err_gyre_a_neg, lab_ga, BROWN, 3, 'solid'),
                 (gyre_b_neg, err_gyre_b_neg, lab_gb, PERU, 1.5, DASH)]),
    dict(lab='l', col=1, row=5, yr=[-40, 75], yt=[-25, 0, 25, 50, 75], fmt='d', ref=0, bands=bands_neg,
         leg=dict(x=1321, y=772, anchor='top'),
         series=[(over_s_neg, err_over_s_neg, lab_os, DSB, 2.5, 'solid'),
                 (iso_s_neg, err_iso_s_neg, lab_is, MPURPLE, 1.5, DASH)]),
]

fig = go.Figure()
layout = dict(width=W, height=H, autosize=False,
              margin=dict(l=0, r=0, t=0, b=0, pad=0, autoexpand=False),
              paper_bgcolor='white', plot_bgcolor='white',
              font=dict(family=FONT, size=12, color='#222222'),
              showlegend=True)
shapes = []
annotations = []
legend_count = 0

for i, p in enumerate(panels):
    n = i + 1
    xa = 'x' if n == 1 else 'x%d' % n
    ya = 'y' if n == 1 else 'y%d' % n
    x0p, x1p = col_px[p['col']]
    y0p, y1p = row_top[p['row']], row_bot[p['row']]
    axstyle = dict(showline=True, mirror=True, linecolor='#333333', linewidth=1,
                   showgrid=True, gridcolor='#c4c4c4', griddash='2px,2px', gridwidth=1,
                   ticks='outside', ticklen=4, tickcolor='#333333', zeroline=False,
                   tickfont=dict(family=FONT, size=12.5, color='#222222'))
    layout['xaxis' if n == 1 else 'xaxis%d' % n] = dict(
        domain=[X(x0p), X(x1p)], anchor=ya, range=[-13.1, 71],
        tickmode='array', tickvals=tick_months, ticktext=tick_labels, **axstyle)
    layout['yaxis' if n == 1 else 'yaxis%d' % n] = dict(
        domain=[Y(y1p), Y(y0p)], anchor=xa, range=p['yr'],
        tickmode='array', tickvals=p['yt'], tickformat=p['fmt'], **axstyle)

    for b in p['bands']:
        shapes.append(dict(type='rect', xref=xa, yref=ya + ' domain', x0=b[0], x1=b[1], y0=0, y1=1,
                           fillcolor='#e4e4e4', line=dict(width=0), layer='below'))
    shapes.append(dict(type='line', xref=xa + ' domain', yref=ya, x0=0, x1=1, y0=p['ref'], y1=p['ref'],
                       line=dict(color='black', width=1, dash='4px,2px')))

    legname = None
    if p['leg'] is not None:
        legend_count += 1
        legname = 'legend' if legend_count == 1 else 'legend%d' % legend_count
        lg = p['leg']
        layout[legname] = dict(orientation='h', x=X(lg['x']), y=Y(lg['y']), xanchor='right',
                               yanchor=lg['anchor'], bgcolor='rgba(255,255,255,0.85)',
                               bordercolor='#cccccc', borderwidth=1,
                               font=dict(family=FONT, size=13, color='#222222'),
                               itemwidth=30, tracegroupgap=0)

    for vals, errs, name, color, lw, dash in p['series']:
        tr = dict(x=months, y=vals, mode='lines', xaxis=xa, yaxis=ya, name=name,
                  line=dict(color=color, width=lw, dash=dash),
                  error_y=dict(type='data', array=errs, visible=True, color=rgba(color, 0.5),
                               thickness=1.1, width=0),
                  showlegend=legname is not None)
        if legname is not None:
            tr['legend'] = legname
        fig.add_trace(go.Scatter(**tr))

    # panel label in rounded box
    bw = 24 if p['lab'] in ('i', 'j', 'l') else 28
    bx0, by0 = x0p + 11, y0p + 5
    bx1, by1 = bx0 + bw, by0 + 24
    r = 4
    path = ('M %f,%f L %f,%f Q %f,%f %f,%f L %f,%f Q %f,%f %f,%f L %f,%f Q %f,%f %f,%f L %f,%f Q %f,%f %f,%f Z' % (
        X(bx0 + r), Y(by0), X(bx1 - r), Y(by0), X(bx1), Y(by0), X(bx1), Y(by0 + r),
        X(bx1), Y(by1 - r), X(bx1), Y(by1), X(bx1 - r), Y(by1),
        X(bx0 + r), Y(by1), X(bx0), Y(by1), X(bx0), Y(by1 - r),
        X(bx0), Y(by0 + r), X(bx0), Y(by0), X(bx0 + r), Y(by0)))
    shapes.append(dict(type='path', xref='paper', yref='paper', path=path,
                       fillcolor='white', line=dict(color='#222222', width=1), layer='above'))
    annotations.append(dict(xref='paper', yref='paper', x=X((bx0 + bx1) / 2), y=Y((by0 + by1) / 2),
                            text='(%s)' % p['lab'], showarrow=False, xanchor='center', yanchor='middle',
                            font=dict(family=FONT, size=14, color='#111111')))

# titles and axis labels
annotations.append(dict(xref='paper', yref='paper', x=X(370), y=Y(17), text='NAO+ case', showarrow=False,
                        xanchor='center', yanchor='middle', font=dict(family=FONT, size=17, color='#111111')))
annotations.append(dict(xref='paper', yref='paper', x=X(1024), y=Y(17), text='NAO− case', showarrow=False,
                        xanchor='center', yanchor='middle', font=dict(family=FONT, size=17, color='#111111')))
for cx in (370, 1024):
    annotations.append(dict(xref='paper', yref='paper', x=X(cx), y=Y(897), text='Lag Year: Month',
                            showarrow=False, xanchor='center', yanchor='middle',
                            font=dict(family=FONT, size=14.5, color='#111111')))
ytitles = [('SST′ (°C)', 20), ('Heat budget (TW)', 17), ('<i>ψ</i>′<sub><i>max</i></sub> (Sv)', 27),
           ('MHT′ (TW)', 22), ('MHT′ (TW)', 22), ('MHT′ (TW)', 22)]
for k, (t, xp) in enumerate(ytitles):
    annotations.append(dict(xref='paper', yref='paper', x=X(xp), y=Y((row_top[k] + row_bot[k]) / 2), text=t,
                            showarrow=False, textangle=-90, xanchor='center', yanchor='middle',
                            font=dict(family=FONT, size=14.5, color='#111111')))

layout['shapes'] = shapes
layout['annotations'] = annotations
fig.update_layout(**layout)
fig.write_html('out.html', config={'displayModeBar': False},
               post_script="document.body.style.margin='0';document.body.style.overflow='hidden';")
